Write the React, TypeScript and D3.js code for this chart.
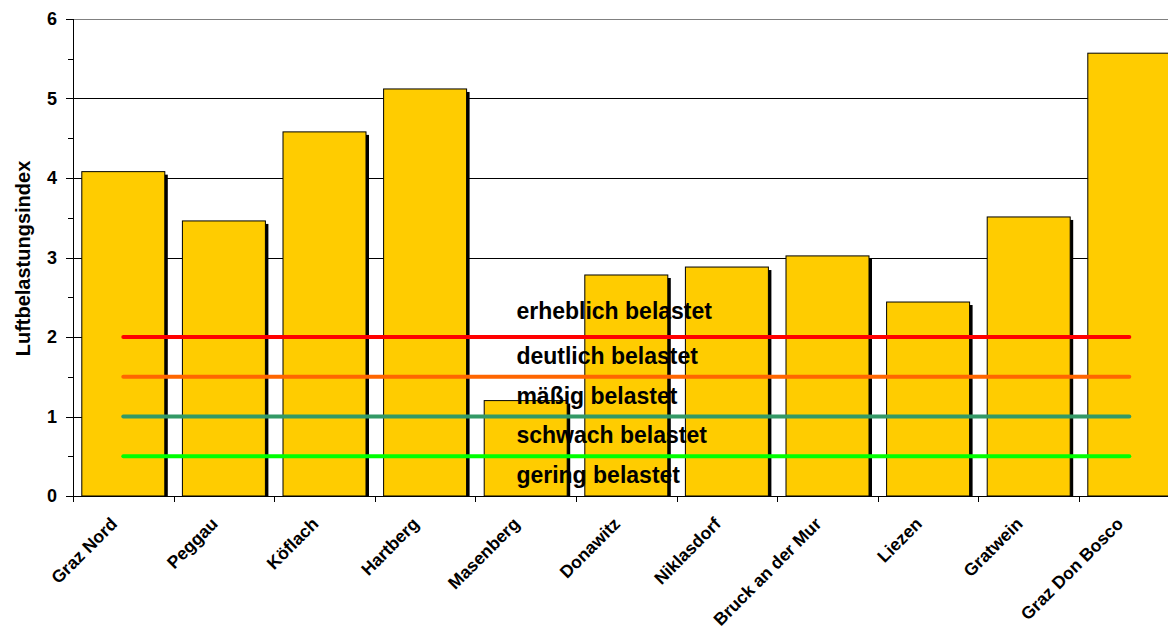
import React from "react";
import * as d3 from "d3";

// Stations and their air pollution index
const stations = [
  "Graz Nord",
  "Peggau",
  "Köflach",
  "Hartberg",
  "Masenberg",
  "Donawitz",
  "Niklasdorf",
  "Bruck an der Mur",
  "Liezen",
  "Gratwein",
  "Graz Don Bosco",
];
const indexValues = [4.08, 3.46, 4.58, 5.12, 1.2, 2.78, 2.88, 3.02, 2.44, 3.51, 5.57];

// Class thresholds drawn as horizontal lines
const thresholdValues = [2, 1.5, 1, 0.5];
const thresholdColors = ["#ff0000", "#ff6600", "#339966", "#00ff00"];

// Class labels and the lower bound of each class
const classLabels = [
  "erheblich belastet",
  "deutlich belastet",
  "mäßig belastet",
  "schwach belastet",
  "gering belastet",
];
const classLower = [2, 1.5, 1, 0.5, 0];

const yTicks = [0, 1, 2, 3, 4, 5, 6];
const yMinorTicks = [0.5, 1.5, 2.5, 3.5, 4.5, 5.5];
const yTitle = "Luftbelastungsindex";

const W = 1168;
const H = 634;
const left = 73;
const top = 19;
const bottom = 496;
const FONT = "'Liberation Sans', Arial, Helvetica, sans-serif";

export default function App() {
  const step = 100.6;
  const x = d3
    .scaleBand<string>()
    .domain(stations)
    .range([left, left + step * stations.length])
    .paddingInner(0.175)
    .paddingOuter(0.0875);
  const y = d3.scaleLinear().domain([0, 6]).range([bottom, top]);
  const bw = x.bandwidth();
  const center = (s: string) => (x(s) as number) + bw / 2;
  const boundary = (i: number) => left + i * x.step();

  const line = d3.line<string>().x((s) => center(s));

  const labelX = (x("Masenberg") as number) + x.step() * 0.32;

  return (
    <svg
      width={W}
      height={H}
      style={{ position: "absolute", left: 0, top: 0, background: "#fff" }}
      fontFamily={FONT}
    >
      <defs>
        <clipPath id="plotClip">
          <rect x={left} y={0} width={W - left} height={bottom} />
        </clipPath>
      </defs>

      {/* gridlines */}
      {yTicks
        .filter((t) => t > 0)
        .map((t) => (
          <line
            key={"g" + t}
            x1={left}
            x2={W}
            y1={Math.round(y(t)) + 0.5}
            y2={Math.round(y(t)) + 0.5}
            stroke={t === 6 ? "#808080" : "#000"}
            strokeWidth={1}
          />
        ))}

      {/* bars with drop shadow */}
      <g clipPath="url(#plotClip)">
        {stations.map((s, i) => (
          <rect
            key={"sh" + s}
            x={(x(s) as number) + 3}
            y={y(indexValues[i]) + 3}
            width={bw}
            height={bottom - y(indexValues[i])}
            fill="#000"
          />
        ))}
        {stations.map((s, i) => (
          <rect
            key={"b" + s}
            x={x(s) as number}
            y={y(indexValues[i])}
            width={bw}
            height={bottom - y(indexValues[i])}
            fill="#ffcc00"
            stroke="#000"
            strokeWidth={1}
          />
        ))}
      </g>

      {/* threshold lines */}
      {thresholdValues.map((v, i) => (
        <path
          key={"t" + v}
          d={line.y(() => y(v))(stations) || ""}
          fill="none"
          stroke={thresholdColors[i]}
          strokeWidth={4}
          strokeLinecap="round"
        />
      ))}

      {/* class labels */}
      {classLabels.map((lab, i) => (
        <text
          key={lab}
          x={labelX}
          y={y(classLower[i] + 0.25) + (i === 0 ? -5 : 0)}
          dy={7}
          fontSize={23}
          fontWeight="bold"
          fill="#000"
        >
          {lab}
        </text>
      ))}

      {/* axes */}
      <line x1={left + 0.5} x2={left + 0.5} y1={top} y2={bottom + 6} stroke="#000" />
      <line x1={left} x2={W} y1={bottom + 0.5} y2={bottom + 0.5} stroke="#000" />
      {yTicks.map((t) => (
        <g key={"yt" + t}>
          <line
            x1={left - 7}
            x2={left}
            y1={Math.round(y(t)) + 0.5}
            y2={Math.round(y(t)) + 0.5}
            stroke="#000"
          />
          <text
            x={57}
            y={y(t)}
            dy="0.36em"
            textAnchor="end"
            fontSize={18}
            fontWeight="bold"
          >
            {t}
          </text>
        </g>
      ))}
      {yMinorTicks.map((t) => (
        <line
          key={"ym" + t}
          x1={left - 5}
          x2={left}
          y1={Math.round(y(t)) + 0.5}
          y2={Math.round(y(t)) + 0.5}
          stroke="#000"
        />
      ))}
      {stations.map((s, i) => (
        <line
          key={"xt" + s}
          x1={Math.round(boundary(i + 1)) + 0.5}
          x2={Math.round(boundary(i + 1)) + 0.5}
          y1={bottom}
          y2={bottom + 6}
          stroke="#000"
        />
      ))}
      {stations.map((s) => (
        <text
          key={"xl" + s}
          transform={`translate(${center(s) - 5},${bottom + 29}) rotate(-45)`}
          textAnchor="end"
          fontSize={17.5}
          fontWeight="bold"
        >
          {s}
        </text>
      ))}

      <text
        transform={`translate(30,${(top + bottom) / 2 + 1}) rotate(-90)`}
        textAnchor="middle"
        fontSize={20}
        fontWeight="bold"
      >
        {yTitle}
      </text>
    </svg>
  );
}
